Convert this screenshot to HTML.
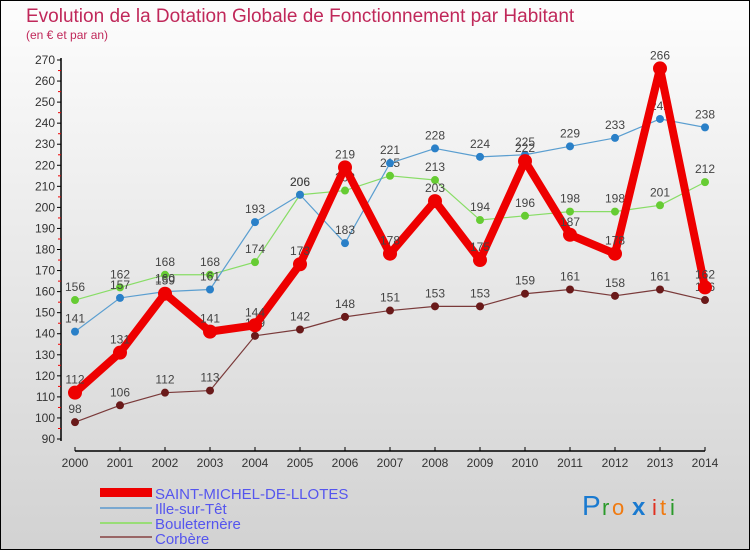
<!DOCTYPE html>
<html><head><meta charset="utf-8"><style>
html,body{margin:0;padding:0;}
body{width:750px;height:550px;overflow:hidden;font-family:"Liberation Sans",sans-serif;}
svg text{font-family:"Liberation Sans",sans-serif;}
</style></head><body>
<svg id="chart" width="750" height="550" viewBox="0 0 750 550">
<defs><linearGradient id="bg" x1="0" y1="0" x2="0" y2="1"><stop offset="0" stop-color="#fdfdfd"/><stop offset="1" stop-color="#d2d2d2"/></linearGradient></defs>
<rect x="0.5" y="0.5" width="749" height="549" fill="url(#bg)" stroke="#000" stroke-width="1"/>
<text x="26" y="22" font-size="19" fill="#c0285a">Evolution de la Dotation Globale de Fonctionnement par Habitant</text>
<text x="26" y="39" font-size="12" fill="#c0285a">(en € et par an)</text>
<g id="axes"></g>
<g id="series"></g>
<g id="legend">
<rect x="100" y="488" width="52" height="9" fill="#ee0000"/>
<text x="155" y="499" font-size="15" fill="#5555ee">SAINT-MICHEL-DE-LLOTES</text>
<rect x="100" y="507" width="52" height="2" fill="#7aa8d0"/>
<text x="155" y="514" font-size="15" fill="#5555ee">Ille-sur-Têt</text>
<rect x="100" y="522" width="52" height="2" fill="#99dd77"/>
<text x="155" y="529" font-size="15" fill="#5555ee">Bouleternère</text>
<rect x="100" y="536" width="52" height="2" fill="#996666"/>
<text x="155" y="544" font-size="15" fill="#5555ee">Corbère</text>
</g>
<g font-size="28" font-family="Liberation Sans,sans-serif">
<text x="582" y="515" fill="#1a7ad0">P</text><text x="602" y="515" fill="#2a9a2a" font-size="22">r</text><text x="612" y="515" fill="#f07a10" font-size="22">o</text><text x="632" y="515" fill="#1a7ad0" font-weight="bold" font-size="24">x</text><text x="652" y="515" fill="#e03020" font-size="22">i</text><text x="660" y="515" fill="#f07a10" font-size="22">t</text><text x="670" y="515" fill="#2a9a2a" font-size="22">i</text>
</g>
</svg>
<script>
const years=[2000,2001,2002,2003,2004,2005,2006,2007,2008,2009,2010,2011,2012,2013,2014];
const saintMichel=[112,131,159,141,144,173,219,178,203,175,222,187,178,266,162];
const ille=[141,157,160,161,193,206,183,221,228,224,225,229,233,242,238];
const bouleternere=[156,162,168,168,174,206,208,215,213,194,196,198,198,201,212];
const corbere=[98,106,112,113,139,142,148,151,153,153,159,161,158,161,156];
const yTicks=[90,100,110,120,130,140,150,160,170,180,190,200,210,220,230,240,250,260,270];
const NS="http://www.w3.org/2000/svg";
const xS=i=>75+i*45;
const yS=v=>439-(v-90)*(379/180);
function mk(tag,attrs,parent){const e=document.createElementNS(NS,tag);for(const k in attrs)e.setAttribute(k,attrs[k]);parent.appendChild(e);return e;}
const axes=document.getElementById('axes');
const yAxis=mk('line',{x1:61,y1:58,x2:61,y2:441,stroke:'#000','stroke-width':1.5},axes);


yTicks.forEach(v=>{
  const y=yS(v);
  mk('line',{x1:57,y1:y,x2:61,y2:y,stroke:'#000'},axes);
  if(v<270) mk('line',{x1:58,y1:y-10.5,x2:61,y2:y-10.5,stroke:'#e00'},axes);
  const t=mk('text',{x:55,y:y+4,'font-size':12,'text-anchor':'end',fill:'#333'},axes);
  t.textContent=v;
  
  
});
const xAxis=mk('line',{x1:75,y1:451,x2:705,y2:451,stroke:'#000','stroke-width':1.5},axes);


years.forEach((yr,i)=>{
  const x=xS(i);
  mk('line',{x1:x,y1:447,x2:x,y2:451,stroke:'#000'},axes);
  const t=mk('text',{x:x,y:467,'font-size':12,'text-anchor':'middle',fill:'#333'},axes);
  t.textContent=yr;
  
  
});
const sg=document.getElementById('series');
function series(data,name,color,w,r,dot){
  const g=mk('g',{},sg);
  
  
  const p=mk('polyline',{points:data.map((v,i)=>xS(i)+','+yS(v)).join(' '),fill:'none',stroke:color,'stroke-width':w,'stroke-linejoin':'round'},g);
  
  
  data.forEach((v,i)=>{
    const c=mk('circle',{cx:xS(i),cy:yS(v),r:r,fill:dot},g);
    
    
    const t=mk('text',{x:xS(i),y:yS(v)-9,'font-size':12,'text-anchor':'middle',fill:'#444'},g);
    t.textContent=v;
    
    
  });
}
series(corbere,'corbere','#7a3a3a',1.2,4,'#6a1a1a');
series(bouleternere,'bouleternere','#88dd66',1.2,4,'#66cc33');
series(ille,'ille-sur-tet','#5a9ed0',1.2,4,'#2a80c8');
series(saintMichel,'saint-michel-de-llotes','#ee0000',8,7,'#ee0000');
</script>
</body></html>
